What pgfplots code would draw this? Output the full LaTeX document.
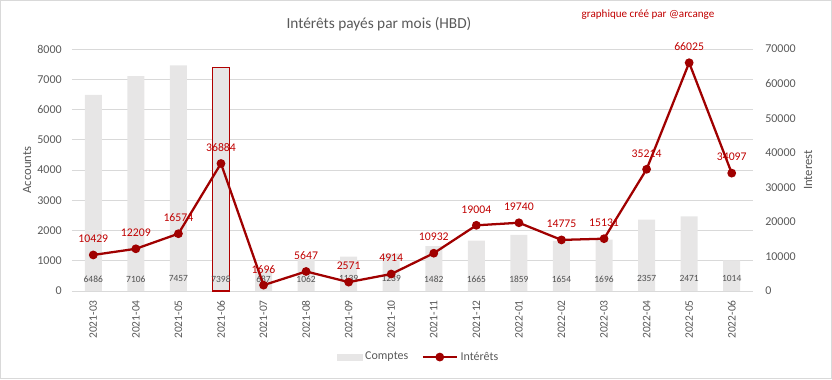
\documentclass[border=0pt]{standalone}
\usepackage{pgfplots}
\pgfplotsset{compat=1.18}
\usepackage{fontspec}
\setmainfont{Carlito}
\definecolor{txtgray}{HTML}{595959}
\definecolor{lblgray}{HTML}{505050}
\definecolor{gridgray}{HTML}{D9D9D9}
\definecolor{barfill}{HTML}{E7E6E6}
\definecolor{linered}{HTML}{A00000}
\definecolor{lblred}{HTML}{C00000}
\definecolor{borderred}{HTML}{B00000}
\begin{document}
\begin{tikzpicture}
\useasboundingbox (0,0) rectangle (624pt,284.25pt);
\draw[gridgray, line width=0.75pt] (0.375pt,0.375pt) rectangle (623.625pt,283.875pt);
\node[txtgray, font=\fontsize{11.5}{13}\selectfont] at (284.25pt,266.25pt) {Intérêts payés par mois (HBD)};
\node[lblred, font=\fontsize{8.3}{10}\selectfont] at (486pt,273pt) {graphique créé par @arcange};
\begin{axis}[
  at={(54pt,66pt)}, anchor=south west,
  scale only axis, width=510.75pt, height=181.5pt,
  xmin=-0.5, xmax=15.5, ymin=0, ymax=8000,
  xtick={0,...,15},
  xticklabels={2021-03,2021-04,2021-05,2021-06,2021-07,2021-08,2021-09,2021-10,2021-11,2021-12,2022-01,2022-02,2022-03,2022-04,2022-05,2022-06},
  xticklabel style={rotate=90, anchor=east, inner sep=0pt, font=\fontsize{8.6}{10}\selectfont, text=txtgray},
  xticklabel shift=6.75pt,
  ytick={0,1000,...,8000},
  yticklabel style={anchor=east, inner sep=0pt, font=\fontsize{9}{10}\selectfont, text=txtgray},
  yticklabel shift=7.5pt,
  /pgf/number format/assume math mode=true,
  scaled y ticks=false,
  y tick label style={/pgf/number format/1000 sep={}},
  ymajorgrids, grid style={gridgray, line width=0.75pt},
  axis line style={draw=none},
  major tick length=0pt,
  ylabel={Accounts},
  ylabel style={at={(axis description cs:-0.066,0.5)}, anchor=center, font=\fontsize{9.5}{11}\selectfont, text=txtgray},
  clip=false,
]
\addplot[ybar, bar width=12.75pt, bar shift=0pt, fill=barfill, draw=none] coordinates {
(0,6486) (1,7106) (2,7457) (3,7398) (4,687) (5,1062) (6,1139) (7,1239)
(8,1482) (9,1665) (10,1859) (11,1654) (12,1696) (13,2357) (14,2471) (15,1014)};
\addplot[ybar, bar width=12.75pt, bar shift=0pt, color=borderred, fill=barfill, line width=1pt] coordinates {(3,7398)};
\addplot[draw=none, mark=none, nodes near coords, point meta=explicit symbolic,
  every node near coord/.style={anchor=center, inner sep=0pt, text=lblgray, font=\fontsize{7.1}{8}\selectfont}] coordinates {
(0,400) [6486] (1,400) [7106] (2,400) [7457] (3,400) [7398] (4,400) [687] (5,400) [1062] (6,400) [1139] (7,400) [1239]
(8,400) [1482] (9,400) [1665] (10,400) [1859] (11,400) [1654] (12,400) [1696] (13,400) [2357] (14,400) [2471] (15,400) [1014]};
\end{axis}
\begin{axis}[
  at={(54pt,66pt)}, anchor=south west,
  scale only axis, width=510.75pt, height=181.5pt,
  xmin=-0.5, xmax=15.5, ymin=0, ymax=70000,
  axis x line=none,
  axis y line*=right,
  axis line style={draw=none},
  major tick length=0pt,
  ytick={0,10000,...,70000},
  yticklabel style={anchor=west, inner sep=0pt, font=\fontsize{9}{10}\selectfont, text=txtgray},
  yticklabel shift=9pt,
  /pgf/number format/assume math mode=true,
  scaled y ticks=false,
  y tick label style={/pgf/number format/1000 sep={}},
  ylabel={Interest},
  ylabel style={at={(axis description cs:1.0808,0.5)}, anchor=center, rotate=0, font=\fontsize{9.5}{11}\selectfont, text=txtgray},
  clip=false,
  legend columns=2,
  legend style={at={(axis description cs:0.5095,-0.273)}, anchor=center, draw=none, fill=none,
    font=\fontsize{9}{10}\selectfont, text=txtgray, /tikz/every even column/.append style={column sep=8pt}},
]
\addlegendimage{legend image code/.code={\fill[barfill] (0pt,-2.25pt) rectangle (18.75pt,2.25pt);}}
\addlegendentry{Comptes}
\addplot[linered, line width=1.7pt, mark=*, mark size=2.4pt, mark options={fill=linered, draw=linered},
  nodes near coords, point meta=explicit symbolic,
  every node near coord/.style={anchor=center, yshift=12pt, inner sep=0pt, text=lblred, font=\fontsize{8.8}{10}\selectfont},
  legend image code/.code={\draw[linered, line width=1.7pt] (0pt,0pt) -- (25.5pt,0pt); \fill[linered] (12.75pt,0pt) circle (2.4pt);}
] coordinates {
(0,10429) [10429] (1,12209) [12209] (2,16574) [16574] (3,36884) [36884] (4,1696) [1696] (5,5647) [5647] (6,2571) [2571] (7,4914) [4914]
(8,10932) [10932] (9,19004) [19004] (10,19740) [19740] (11,14775) [14775] (12,15131) [15131] (13,35214) [35214] (14,66025) [66025] (15,34097) [34097]};
\addlegendentry{Intérêts}
\end{axis}
\end{tikzpicture}
\end{document}
